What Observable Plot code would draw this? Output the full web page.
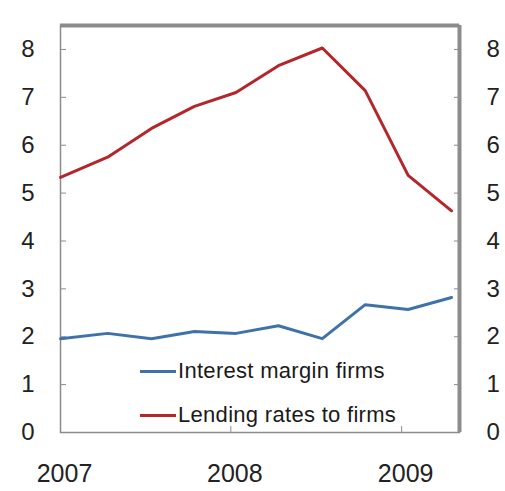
<!DOCTYPE html>
<html><head><meta charset="utf-8">
<script src="https://cdn.jsdelivr.net/npm/d3@7"></script>
<script src="https://cdn.jsdelivr.net/npm/@observablehq/plot@0.6"></script>
<style>
body{margin:0;background:#fff}
#wrap{position:relative;width:505px;height:491px}
svg{font-family:"Liberation Sans",Arial,sans-serif}
.leg{position:absolute;left:140px;font-family:"Liberation Sans",Arial,sans-serif;font-size:22px;letter-spacing:0.3px;color:#1a1a1a;display:flex;align-items:center;white-space:nowrap}
.leg span.k{display:inline-block;width:36px;height:3px;margin-right:2px}
</style>
</head><body><div id="wrap"></div>
<script>
const dates = ["2007-01-01","2007-04-12","2007-07-15","2007-10-15","2008-01-12","2008-04-12","2008-07-15","2008-10-15","2009-01-15","2009-04-18"];
const lendingRates = [5.33,5.75,6.35,6.81,7.10,7.66,8.03,7.14,5.37,4.63];
const interestMargin = [1.96,2.07,1.96,2.11,2.07,2.23,1.96,2.67,2.57,2.82];
const seriesNames = ["Interest margin firms","Lending rates to firms"];
const seriesColors = ["#3f72a8","#b3262b"];
const yTicks = [0,1,2,3,4,5,6,7,8];
const xTicks = ["2007-01-01","2008-01-01","2009-01-01"];
const xDomain = ["2007-01-01","2009-05-05"];
const yDomain = [0, 8.5];

const parse = d3.utcParse("%Y-%m-%d");
const rows = [];
dates.forEach((d,i)=>{
  rows.push({date: parse(d), value: interestMargin[i], series: seriesNames[0]});
  rows.push({date: parse(d), value: lendingRates[i], series: seriesNames[1]});
});
const xt = xTicks.map(parse);
const grey = "#8c8c8c";

const chart = Plot.plot({
  width: 505, height: 491,
  marginLeft: 60, marginRight: 46, marginTop: 25, marginBottom: 59,
  x: {type: "utc", domain: xDomain.map(parse)},
  y: {domain: yDomain},
  style: {color: "#222", background: "#fff"},
  marks: [
    Plot.frame({stroke: grey, strokeWidth: 1.5}),
    Plot.ruleY([yDomain[1]], {stroke: grey, strokeWidth: 4}),
    Plot.ruleX([parse(xDomain[1])], {stroke: grey, strokeWidth: 4}),
    Plot.axisY(yTicks, {anchor: "left", tickSize: 6, dx: 6, text: null, stroke: grey, label: null}),
    Plot.axisY(yTicks, {anchor: "right", tickSize: 6, dx: -6, text: null, stroke: grey, label: null}),
    Plot.axisX(xt, {anchor: "bottom", tickSize: 6, dy: -6, text: null, stroke: grey, label: null}),
    Plot.axisY(yTicks, {anchor: "left", tickSize: 0, tickPadding: 26, fontSize: 24, label: null, fill: "#222"}),
    Plot.axisY(yTicks, {anchor: "right", tickSize: 0, tickPadding: 27, fontSize: 24, label: null, fill: "#222"}),
    Plot.axisX(xt, {anchor: "bottom", tickSize: 0, tickPadding: 32, fontSize: 25, tickFormat: d3.utcFormat("%Y"), label: null, fill: "#222", dx: 4}),
    Plot.line(rows, {x: "date", y: "value", z: "series", stroke: "series", strokeWidth: 3}),
  ],
  color: {domain: seriesNames, range: seriesColors}
});
const wrap = document.getElementById("wrap");
wrap.appendChild(chart);
const legTops = [358, 402];
seriesNames.forEach((n,i)=>{
  const d = document.createElement("div");
  d.className = "leg";
  d.style.top = legTops[i] + "px";
  d.innerHTML = `<span class="k" style="background:${seriesColors[i]}"></span>${n}`;
  wrap.appendChild(d);
});
</script>
</body></html>
